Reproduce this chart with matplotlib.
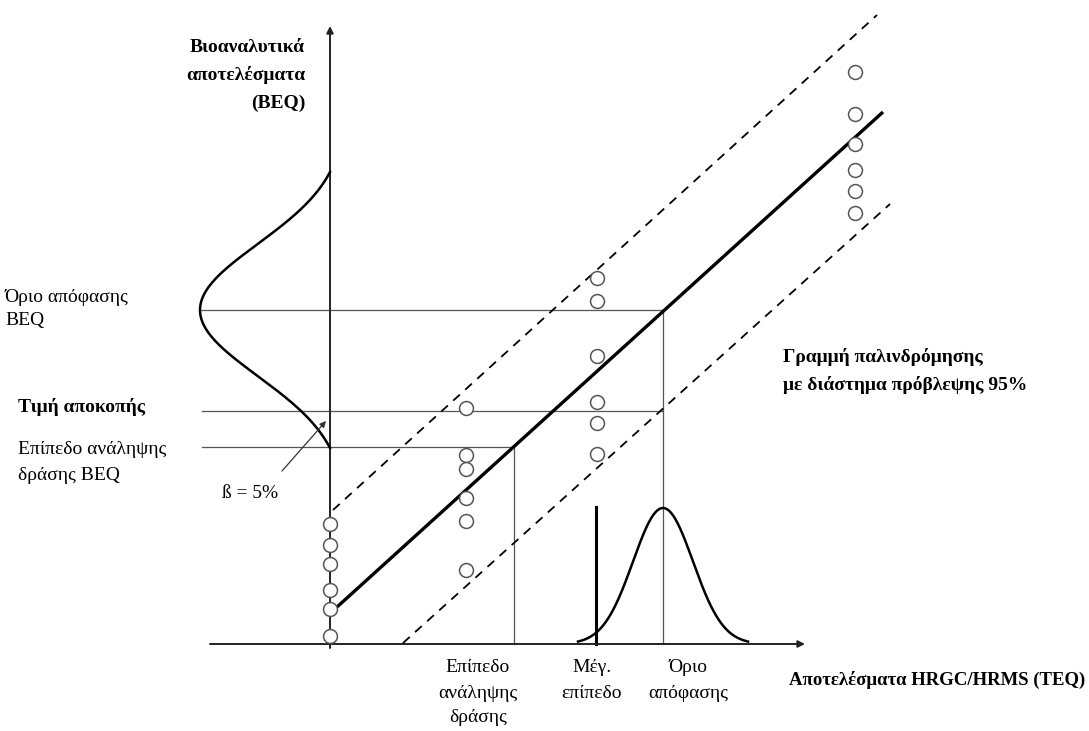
import numpy as np
import matplotlib.pyplot as plt

# canvas is laid out in pixel units of the original diagram (x right, y down)
W, H = 1089, 731

# axes of the diagram
Y_AXIS_X = 330
X_AXIS_Y = 644
Y_AXIS_TOP = 26
X_AXIS_LEFT = 210
X_AXIS_RIGHT = 805

# observations (BEQ vs TEQ), one column of circles per TEQ level
COL_X = [330, 466, 597, 855]
COL_Y = [
    [524, 545, 564, 590, 609, 636],
    [408, 455, 469, 498, 521, 570],
    [278, 301, 356, 402, 423, 454],
    [72, 114, 144, 170, 191, 213],
]

# regression line and 95% prediction band end points
REG_X = [337, 883]
REG_Y = [607, 112]
UPPER_X = [333, 877]
UPPER_Y = [510, 15]
LOWER_X = [403, 890]
LOWER_Y = [643, 204]

# reference levels
DECISION_BEQ_Y = 310
CUTOFF_Y = 411
ACTION_BEQ_Y = 447
ACTION_TEQ_X = 514
MAX_LEVEL_X = 596
MAX_LEVEL_TOP = 507
DECISION_TEQ_X = 663

# bell curves: (centre, sigma, height, half span)
BEQ_BELL = (310, 66, 130, 138)
TEQ_BELL = (663, 30, 136, 85)

FONT = "Liberation Serif"
FS = 14


def bell(centre, sigma, height, span, flat_ends=False):
    t = np.linspace(-span, span, 300)
    g = np.exp(-0.5 * (t / sigma) ** 2)
    if flat_ends:
        g_end = np.exp(-0.5 * (span / sigma) ** 2)
        g = (g - g_end) / (1 - g_end)
    return centre + t, height * g


def main() -> None:
    fig = plt.figure(figsize=(W / 100, H / 100), dpi=100)
    ax = fig.add_axes([0, 0, 1, 1])
    ax.set_xlim(0, W)
    ax.set_ylim(H, 0)
    ax.axis("off")

    guide = dict(color="#555555", lw=0.9, zorder=1)

    # axes with arrows
    ax.annotate("", xy=(Y_AXIS_X, Y_AXIS_TOP), xytext=(Y_AXIS_X, X_AXIS_Y + 4),
                arrowprops=dict(arrowstyle="-|>", color="#222222", lw=1.4,
                                mutation_scale=10, shrinkA=0, shrinkB=0))
    ax.annotate("", xy=(X_AXIS_RIGHT, X_AXIS_Y), xytext=(X_AXIS_LEFT, X_AXIS_Y),
                arrowprops=dict(arrowstyle="-|>", color="#222222", lw=1.4,
                                mutation_scale=10, shrinkA=0, shrinkB=0))

    # guide lines
    ax.plot([200, DECISION_TEQ_X], [DECISION_BEQ_Y, DECISION_BEQ_Y], **guide)
    ax.plot([202, DECISION_TEQ_X], [CUTOFF_Y, CUTOFF_Y], **guide)
    ax.plot([202, ACTION_TEQ_X], [ACTION_BEQ_Y, ACTION_BEQ_Y], **guide)
    ax.plot([ACTION_TEQ_X, ACTION_TEQ_X], [ACTION_BEQ_Y, X_AXIS_Y], **guide)
    ax.plot([DECISION_TEQ_X, DECISION_TEQ_X], [DECISION_BEQ_Y, X_AXIS_Y], **guide)
    ax.plot([MAX_LEVEL_X, MAX_LEVEL_X], [MAX_LEVEL_TOP, X_AXIS_Y],
            color="black", lw=2.2, zorder=2)

    # regression line and prediction band
    ax.plot(REG_X, REG_Y, color="black", lw=2.4, solid_capstyle="butt", zorder=3)
    for xs, ys in [(UPPER_X, UPPER_Y), (LOWER_X, LOWER_Y)]:
        ax.plot(xs, ys, color="black", lw=1.3, dashes=(5, 4), zorder=3)

    # bell curves
    yy, dx = bell(*BEQ_BELL, flat_ends=True)
    ax.plot(Y_AXIS_X - dx, yy, color="black", lw=1.8, zorder=3)
    xx, dy = bell(*TEQ_BELL)
    ax.plot(xx, X_AXIS_Y - dy, color="black", lw=1.8, zorder=3)

    # observations
    for x, ys in zip(COL_X, COL_Y):
        ax.plot([x] * len(ys), ys, "o", ms=10, mfc="white", mec="#555555",
                mew=1.1, zorder=4)

    # beta arrow
    ax.annotate("", xy=(326, 421), xytext=(282, 471),
                arrowprops=dict(arrowstyle="-|>", color="#333333", lw=0.9,
                                mutation_scale=9, shrinkA=0, shrinkB=0))

    txt = dict(fontfamily=FONT, fontsize=FS, color="black", va="center")
    bold = dict(txt, fontweight="bold")

    for y, s in [(48, "Βιοαναλυτικά"), (75, "αποτελέσματα"), (103, "(BEQ)")]:
        ax.text(305, y, s, ha="right", **bold)
    ax.text(5, 297, "Όριο απόφασης", ha="left", **txt)
    ax.text(5, 321, "BEQ", ha="left", **txt)
    ax.text(18, 407, "Τιμή αποκοπής", ha="left", **bold)
    ax.text(18, 450, "Επίπεδο ανάληψης", ha="left", **txt)
    ax.text(18, 475, "δράσης BEQ", ha="left", **txt)
    ax.text(222, 494, "ß = 5%", ha="left", **txt)
    ax.text(783, 357, "Γραμμή παλινδρόμησης", ha="left", **bold)
    ax.text(783, 385, "με διάστημα πρόβλεψης 95%", ha="left", **bold)

    for cx, lines in [(478, ["Επίπεδο", "ανάληψης", "δράσης"]),
                      (592, ["Μέγ.", "επίπεδο"]),
                      (688, ["Όριο", "απόφασης"])]:
        for i, s in enumerate(lines):
            ax.text(cx, 668 + 25 * i, s, ha="center", **txt)
    ax.text(1085, 680, "Αποτελέσματα HRGC/HRMS (TEQ)", ha="right",
            **dict(bold, fontsize=13.5))

    fig.savefig("out.png", dpi=100, facecolor="white")


if __name__ == "__main__":
    main()
